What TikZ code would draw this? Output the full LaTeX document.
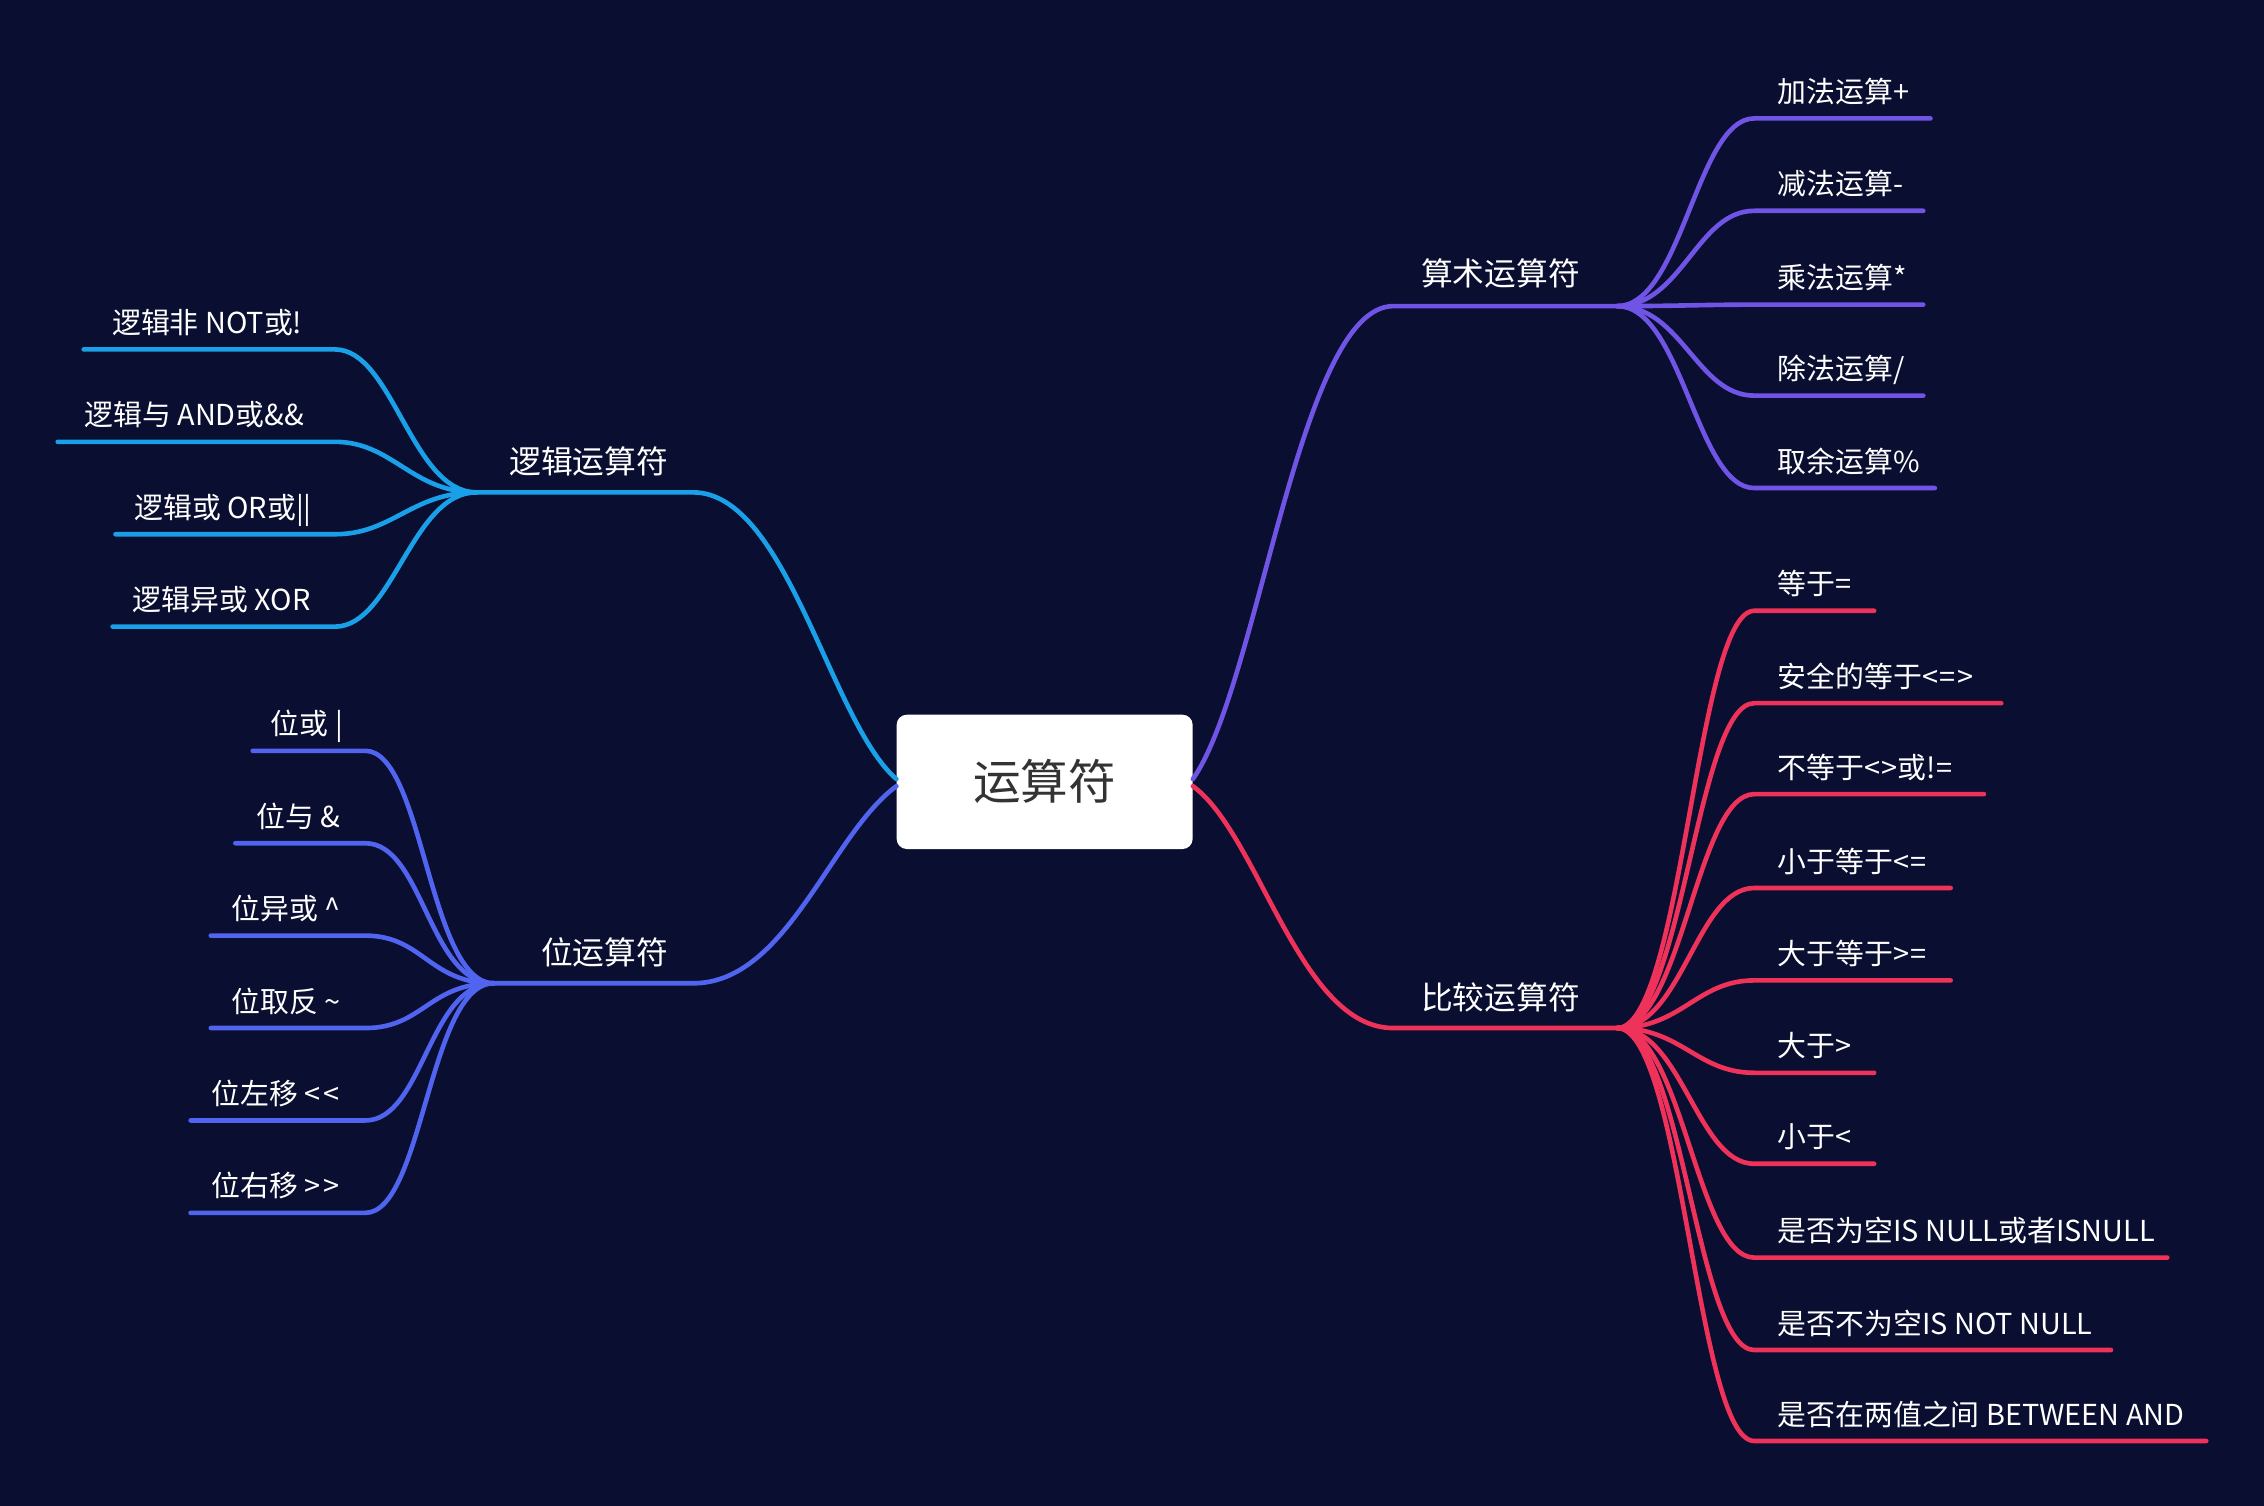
\documentclass[tikz,border=0pt]{standalone}
\usepackage{fontspec}
\setmainfont{Noto Sans CJK SC}
\definecolor{bg}{HTML}{0A0E30}
\definecolor{cpurple}{HTML}{7054E6}
\definecolor{cred}{HTML}{EE325A}
\definecolor{cblue}{HTML}{19A0E8}
\definecolor{cindigo}{HTML}{5064F0}
\definecolor{cdark}{HTML}{333333}
\newcommand{\RLeaf}[5]{%
  \coordinate (#1b) at (1215,#3);
  \coordinate (#1e) at (#4,#3);
  \draw[conn] (#2) .. controls +(45,0) and +(-40,0) .. (#1b) -- (#1e);
  \node[leaf,anchor=base west] (#1) at (1231,#3-11) {#5};
}
\newcommand{\LLeaf}[6]{%
  \coordinate (#1b) at (#5,#3);
  \coordinate (#1e) at (#4,#3);
  \draw[conn] (#2) .. controls +(-45,0) and +(40,0) .. (#1b) -- (#1e);
  \node[leaf,anchor=base] (#1) at ({(#4+13+#5-16)/2},#3-11) {#6};
}
\begin{document}
\begin{tikzpicture}[x=1pt,y=-1pt,
  leaf/.style={text=white,font=\fontsize{20}{24}\selectfont,inner sep=0pt},
  branch/.style={text=white,font=\fontsize{22}{26}\selectfont,inner sep=0pt},
  conn/.style={line width=3.2pt,line cap=round}]
\fill[bg] (0,0) rectangle (1568,1043);
\useasboundingbox (0,0) rectangle (1568,1043);

% root
\node[fill=white,rounded corners=7pt,minimum width=205pt,minimum height=93pt,
      inner sep=0pt,text=cdark,font=\fontsize{33}{40}\selectfont] (root) at (723.5,541.5) {运算符};

% branch anchors
\coordinate (fanA) at (1120,212); \coordinate (bA) at (965,212);
\coordinate (fanB) at (1120,712); \coordinate (bB) at (965,712);
\coordinate (fanC) at (330,341);  \coordinate (bC) at (480,341);
\coordinate (fanD) at (342,681);  \coordinate (bD) at (480,681);

% branch connectors
\draw[conn,cpurple] ([yshift=2pt]root.east) .. controls (872,474) and (900,212) .. (bA) -- (fanA);
\draw[conn,cred]    ([yshift=-3pt]root.east) .. controls (872,578) and (900,712) .. (bB) -- (fanB);
\draw[conn,cblue]   ([yshift=2pt]root.west) .. controls (575,500) and (545,341) .. (bC) -- (fanC);
\draw[conn,cindigo] ([yshift=-3pt]root.west) .. controls (575,578) and (545,681) .. (bD) -- (fanD);

% branch labels
\node[branch,anchor=base west] (sA) at (984,198) {算术运算符};
\node[branch,anchor=base west] (sB) at (984,699) {比较运算符};
\node[branch,anchor=base east] (sC) at (463,328) {逻辑运算符};
\node[branch,anchor=base east] (sD) at (463,668) {位运算符};

% arithmetic
\begin{scope}[cpurple]
\RLeaf{a1}{fanA}{82}{1337}{加法运算+}
\RLeaf{a2}{fanA}{146}{1332}{减法运算-}
\RLeaf{a3}{fanA}{211}{1332}{乘法运算*}
\RLeaf{a4}{fanA}{274}{1332}{除法运算/}
\RLeaf{a5}{fanA}{338}{1340}{取余运算\%}
\end{scope}

% comparison
\begin{scope}[cred]
\RLeaf{b1}{fanB}{423}{1298}{等于=}
\RLeaf{b2}{fanB}{487}{1386}{安全的等于<\kern1pt=\kern1pt>}
\RLeaf{b3}{fanB}{550}{1374}{不等于<\kern1pt>或!=}
\RLeaf{b4}{fanB}{615}{1351}{小于等于<\kern1pt=}
\RLeaf{b5}{fanB}{679}{1351}{大于等于>\kern1pt=}
\RLeaf{b6}{fanB}{743}{1298}{大于>}
\RLeaf{b7}{fanB}{806}{1298}{小于<}
\RLeaf{b8}{fanB}{871}{1501}{是否为空IS NULL或者ISNULL}
\RLeaf{b9}{fanB}{935}{1462}{是否不为空IS NOT NULL}
\RLeaf{b10}{fanB}{998}{1528}{是否在两值之间 BETWEEN AND}
\end{scope}

% logical
\begin{scope}[cblue]
\LLeaf{c1}{fanC}{242}{58}{232}{逻辑非 NOT或!}
\LLeaf{c2}{fanC}{306}{40}{232}{逻辑与 AND或\&\&}
\LLeaf{c3}{fanC}{370}{80}{232}{逻辑或 OR或||}
\LLeaf{c4}{fanC}{434}{78}{232}{逻辑异或 XOR}
\end{scope}

% bitwise
\begin{scope}[cindigo]
\LLeaf{d1}{fanD}{520}{175}{253}{位或 |}
\LLeaf{d2}{fanD}{584}{163}{253}{位与 \&}
\LLeaf{d3}{fanD}{648}{146}{253}{位异或 \textasciicircum}
\LLeaf{d4}{fanD}{712}{146}{253}{位取反 \textasciitilde}
\LLeaf{d5}{fanD}{776}{132}{253}{位左移 <\kern2pt<}
\LLeaf{d6}{fanD}{840}{132}{253}{位右移 >\kern2pt>}
\end{scope}
\end{tikzpicture}
\end{document}
